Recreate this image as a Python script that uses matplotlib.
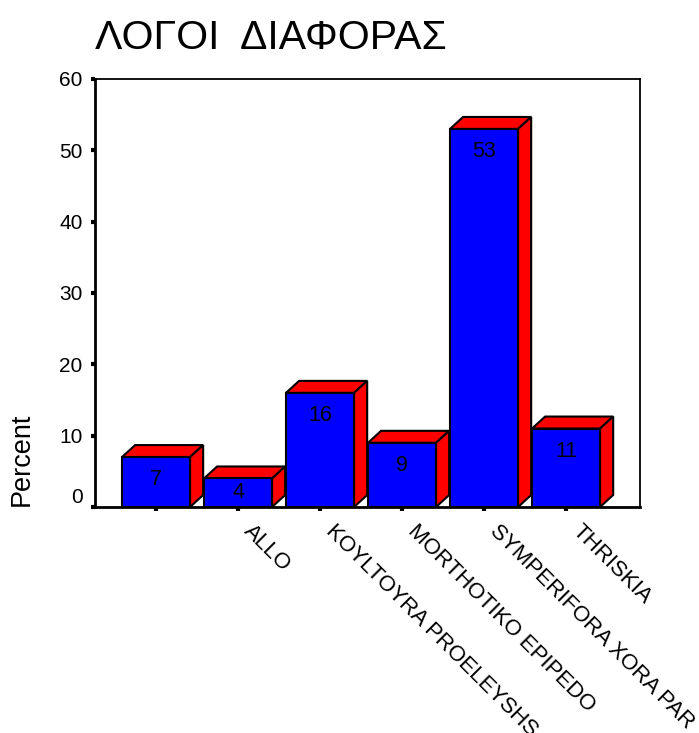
import numpy as np
import matplotlib
matplotlib.use("Agg")
import matplotlib.pyplot as plt
import matplotlib.transforms as mtransforms

# --- chart data (SPSS style 3D bar chart) ---
categories = ["", "ALLO", "KOYLTOYRA PROELEYSHS", "MORTHOTIKO EPIPEDO",
              "SYMPERIFORA XORA PAR", "THRISKIA"]
percent = [7, 4, 16, 9, 53, 11]
y_ticks = [0, 10, 20, 30, 40, 50, 60]

plt.rcParams["font.family"] = ["Liberation Sans", "DejaVu Sans"]

fig = plt.figure(figsize=(6.99, 7.33), dpi=100)
# plot frame: x 95..640 px, y 79..507 px
ax = fig.add_axes([95 / 699, 1 - 507 / 733, 545 / 699, 428 / 733])

x = np.arange(len(categories))
width = 0.83
dx, dy = 0.16, 1.68   # depth offset of the 3D look

for xi, v in zip(x, percent):
    left, right = xi - width / 2, xi + width / 2
    # red top face
    ax.fill([left, right, right + dx, left + dx], [v, v, v + dy, v + dy],
            facecolor="#ff0000", edgecolor="black", linewidth=1.5, zorder=2)
    # red side face
    ax.fill([right, right + dx, right + dx, right], [0, dy, v + dy, v],
            facecolor="#ff0000", edgecolor="black", linewidth=1.5, zorder=2)

ax.bar(x, percent, width=width, color="#0000ff", edgecolor="black",
       linewidth=1.5, zorder=3)

for xi, v in zip(x, percent):
    ty = max(v - 3.2, v / 2)
    ax.text(xi, ty, str(v), ha="center", va="center", fontsize=15.5, zorder=4)

ax.set_xlim(-0.744, 5.902)
ax.set_ylim(0, 60)

ax.tick_params(axis="both", direction="out", length=3, width=3, color="black")
ax.tick_params(axis="x", pad=12.5)
ax.tick_params(axis="y", pad=6)

ax.set_yticks(y_ticks)
ax.set_yticklabels([str(t) for t in y_ticks], fontsize=15)
ax.set_xticks(x)
ax.set_xticklabels(categories, rotation=-45, ha="left", va="center",
                   rotation_mode="anchor", fontsize=16)
ax.get_yticklabels()[0].set_va("bottom")

# nudge category labels to the right, as in the original
# (done after tick_params, which would reset the transform)
shift = mtransforms.ScaledTranslation(9 / 100, 0, fig.dpi_scale_trans)
for lab in ax.get_xticklabels():
    lab.set_transform(lab.get_transform() + shift)

for side in ["left", "bottom"]:
    ax.spines[side].set_linewidth(2)
for side in ["top", "right"]:
    ax.spines[side].set_linewidth(1.3)

fig.text(95 / 699, 1 - 38 / 733, "ΛΟΓΟΙ  ΔΙΑΦΟΡΑΣ", fontsize=29.5,
         ha="left", va="center")
fig.text(22 / 699, 1 - 459 / 733, "Percent", fontsize=19.5, rotation=90,
         ha="center", va="center")

fig.savefig("out.png", dpi=100)
